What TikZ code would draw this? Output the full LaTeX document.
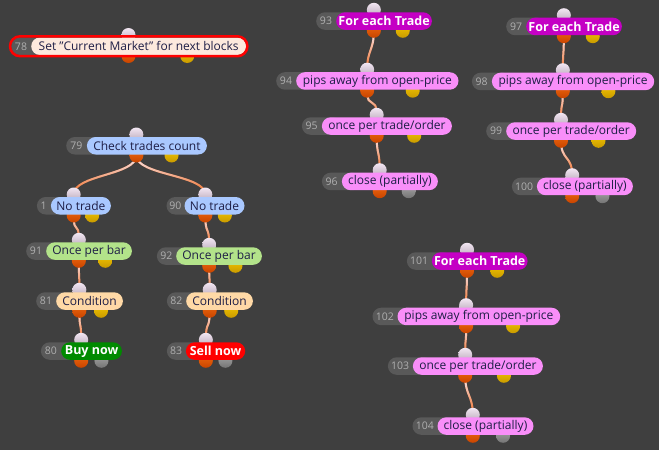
\documentclass[tikz,border=0pt]{standalone}
\usepackage{fontspec}
\setmainfont{Open Sans}
\usetikzlibrary{fadings,fit,calc}
\definecolor{bgc}{HTML}{3F3F3F}
\definecolor{numc}{HTML}{595959}
\definecolor{numt}{HTML}{B0B0B0}
\definecolor{txt}{HTML}{1E1E46}
\definecolor{cpeach}{HTML}{FDE9DD}
\definecolor{cblue}{HTML}{A9C8FF}
\definecolor{cgreen}{HTML}{B3E38A}
\definecolor{ccond}{HTML}{FFD9A6}
\definecolor{cbuy}{HTML}{008A00}
\definecolor{csell}{HTML}{FF0000}
\definecolor{cmag}{HTML}{C400C4}
\definecolor{cpink}{HTML}{F98EF9}
\definecolor{portin1}{HTML}{F2E6F2}
\definecolor{portin2}{HTML}{B9A9B9}
\definecolor{porto1}{HTML}{F06A10}
\definecolor{porto2}{HTML}{C84400}
\definecolor{porty1}{HTML}{F5C800}
\definecolor{porty2}{HTML}{C89A00}
\definecolor{portg1}{HTML}{A8A8A8}
\definecolor{portg2}{HTML}{747474}
\definecolor{lineo}{HTML}{F06A20}
\definecolor{linel}{HTML}{F8EEF8}
\pgfdeclarelayer{back}
\pgfdeclarelayer{bg}
\pgfsetlayers{back,bg,main}
\tikzfading[name=fadeup, top color=transparent!0, middle color=transparent!40, bottom color=transparent!100]
\tikzset{
  lbl/.style={rectangle, rounded corners=8.75pt, minimum height=17.5pt, inner sep=0pt, text=txt, font=\fontsize{12}{12}\selectfont},
  sPeach/.style={lbl, fill=cpeach},
  sBlue/.style={lbl, fill=cblue},
  sGreen/.style={lbl, fill=cgreen},
  sCond/.style={lbl, fill=ccond},
  sBuy/.style={lbl, fill=cbuy, text=white, font=\fontsize{12.5}{12.5}\selectfont\bfseries},
  sSell/.style={lbl, fill=csell, text=white, font=\fontsize{12.5}{12.5}\selectfont\bfseries},
  sMag/.style={lbl, fill=cmag, text=white, font=\fontsize{12.5}{12.5}\selectfont\bfseries},
  sPink/.style={lbl, fill=cpink},
  numpill/.style={rectangle, rounded corners=8.75pt, minimum height=17.5pt, inner sep=0pt, fill=numc},
  numtext/.style={inner sep=0pt, text=numt, font=\fontsize{10.5}{10.5}\selectfont},
  port/.style={circle, minimum size=14pt, inner sep=0pt},
  pIn/.style={port, top color=portin1, bottom color=portin2},
  pOut/.style={port, top color=porto1, bottom color=porto2},
  pYel/.style={port, top color=porty1, bottom color=porty2},
  pGry/.style={port, top color=portg1, bottom color=portg2},
  conn/.style={line width=2pt, lineo},
  connl/.style={line width=2pt, linel, path fading=fadeup},
}
% #1 name, #2 number, #3 label left, #4 top, #5 number width, #6 label width, #7 style, #8 text, #9 second port style
\newcommand\blk[9]{%
  \pgfmathsetmacro\bL{#3-#5}%
  \pgfmathsetmacro\bC{(#3-#5+#3+#6)/2}%
  \pgfmathsetmacro\bQ{#3-#5+0.75*(#5+#6)}%
  \pgfmathsetmacro\bM{#4+8.75}%
  \pgfmathsetmacro\bB{#4+17.5}%
  \pgfmathsetmacro\bN{#3-#5/2}%
  \pgfmathsetmacro\bW{#5+20}%
  \node[pIn] (#1in) at (\bC,#4-2.5) {};
  \node[pOut] (#1out) at (\bC,\bB+1) {};
  \node[#9] (#1alt) at (\bQ,\bB+1) {};
  \node[numpill, minimum width=\bW pt, anchor=west] (#1box) at (\bL,\bM) {};
  \node[numtext] (#1num) at (\bN,\bM) {#2};
  \node[#7, minimum width=#6pt, anchor=west] (#1) at (#3,\bM) {#8};
}
\newcommand\conn[2]{%
  \draw[conn] (#1out.center) .. controls ([yshift=-20pt]#1out.center) and ([yshift=20pt]#2in.center) .. (#2in.center);
  \draw[connl] (#1out.center) .. controls ([yshift=-20pt]#1out.center) and ([yshift=20pt]#2in.center) .. (#2in.center);
}
\begin{document}
\begin{tikzpicture}[x=1pt,y=-1pt]
\begin{pgfonlayer}{back}
  \fill[bgc] (0,0) rectangle (659,450);
\end{pgfonlayer}
\useasboundingbox (0,0) rectangle (659,450);

\blk{b78}{78}{31}{37.5}{20}{215}{sPeach}{Set "Current Market" for next blocks}{pYel}
\node[draw=csell, line width=2.5pt, rounded corners=10pt, inner sep=1pt, fit=(b78box)(b78)] (b78frame) {};

\blk{b79}{79}{86.7}{137}{20.7}{120}{sBlue}{Check trades count}{pYel}
\blk{b1}{1}{50.7}{197}{14}{60}{sBlue}{No trade}{pYel}
\blk{b90}{90}{184.3}{197}{18}{60}{sBlue}{No trade}{pYel}
\blk{b91}{91}{46}{242.3}{20}{85.7}{sGreen}{Once per bar}{pYel}
\blk{b92}{92}{176}{247.3}{19.3}{85.7}{sGreen}{Once per bar}{pYel}
\blk{b81}{81}{56}{292.3}{20}{66.7}{sCond}{Condition}{pYel}
\blk{b82}{82}{186}{292.3}{19.3}{66.7}{sCond}{Condition}{pYel}
\blk{b80}{80}{61}{342.3}{20.3}{60.7}{sBuy}{Buy now}{pGry}
\blk{b83}{83}{185.7}{342.3}{19}{59.3}{sSell}{Sell now}{pGry}

\blk{b93}{93}{336}{12.3}{20}{95.7}{sMag}{For each Trade}{pYel}
\blk{b94}{94}{296}{72.2}{20}{162.3}{sPink}{pips away from open-price}{pYel}
\blk{b95}{95}{321.7}{117.3}{20}{130}{sPink}{once per trade/order}{pYel}
\blk{b96}{96}{341.7}{172.7}{20}{96}{sPink}{close (partially)}{pGry}

\blk{b97}{97}{526}{17.7}{20}{95.7}{sMag}{For each Trade}{pYel}
\blk{b98}{98}{491.7}{72.7}{20}{162.3}{sPink}{pips away from open-price}{pYel}
\blk{b99}{99}{506}{122.3}{20}{130}{sPink}{once per trade/order}{pYel}
\blk{b100}{100}{536.7}{177.7}{25}{96}{sPink}{close (partially)}{pGry}

\blk{b101}{101}{431.7}{252.3}{25}{95.7}{sMag}{For each Trade}{pYel}
\blk{b102}{102}{397.3}{307.7}{25}{162.7}{sPink}{pips away from open-price}{pYel}
\blk{b103}{103}{412.7}{357.3}{25}{130}{sPink}{once per trade/order}{pYel}
\blk{b104}{104}{437.3}{417.3}{25}{96}{sPink}{close (partially)}{pGry}

\begin{pgfonlayer}{bg}
  \conn{b79}{b1}
  \conn{b79}{b90}
  \conn{b1}{b91}
  \conn{b91}{b81}
  \conn{b81}{b80}
  \conn{b90}{b92}
  \conn{b92}{b82}
  \conn{b82}{b83}
  \conn{b93}{b94}
  \conn{b94}{b95}
  \conn{b95}{b96}
  \conn{b97}{b98}
  \conn{b98}{b99}
  \conn{b99}{b100}
  \conn{b101}{b102}
  \conn{b102}{b103}
  \conn{b103}{b104}
\end{pgfonlayer}
\end{tikzpicture}
\end{document}
